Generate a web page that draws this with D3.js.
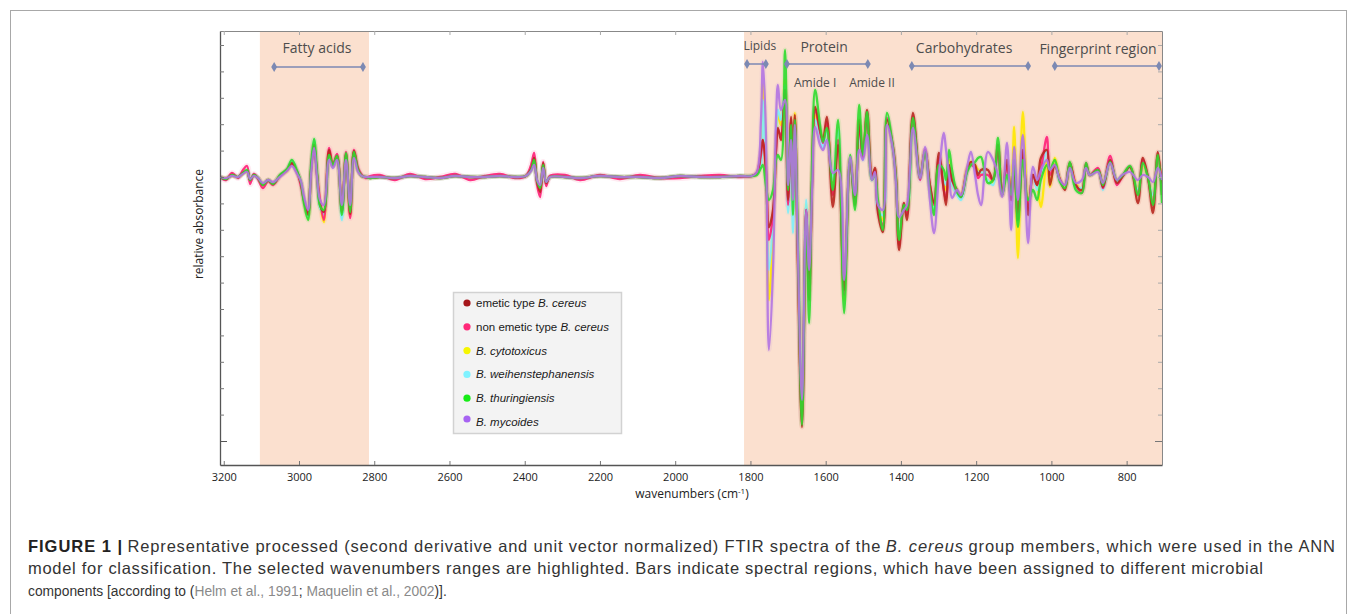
<!DOCTYPE html>
<html>
<head>
<meta charset="utf-8">
<script src="https://cdn.jsdelivr.net/npm/d3@7"></script>
<style>
  body { margin: 0; background: #fff; }
</style>
</head>
<body>
<script>
// wavenumbers (cm-1)
const wavenumbers = [
  3210,3194,3178,3162,3149,3138,3130,3120,3109,
  3096,3082,3069,3051,3032,3019,3005,2995,2987,2976,2968,2960,2952,2944,2934,2920,2910,2899,2886,2875,2864,2854,2843,2833,2822,2811,
  2785,2745,2705,2665,2625,2585,2545,2506,2466,2426,2397,2383,2375,2367,2359,2351,2343,2333,2293,2253,2200,2147,2094,2040,1987,1934,1881,1828,1796,
  1783,1772,1767,1759,1751,1740,1732,1727,1719,1708,1700,1692,1687,1682,1674,1663,1652,1644,1636,1628,1615,1607,1597,1581,1567,
  1551,1535,1522,1511,1501,1490,1477,1469,1461,1448,1437,1421,1413,1405,1392,1384,1368,1349,1336,1323,1312,1299,
  1286,1280,1272,1264,1251,1240,1224,1214,1203,1195,1187,1169,1155,1142,1131,1118,1107,1099,1089,1076,1062,1049,1038,
  1028,1012,1004,991,977,964,951,935,919,908,898,876,863,844,826,812,791,770,757,743,730,717,706
];

// relative absorbance (arbitrary units), one array per group member
const emetic = [
  0,-2,2,0,4,6,-3,2,-1,
  -8,-3,-7,1,7,14,5,-6,-23,-38,7,32,2,-28,-35,27,11,21,-35,23,-37,26,7,1,0,-1,
  0,-1,1,0,-1,1,0,0,1,0,1,8,19,-5,-15,14,-6,0,0,-1,1,0,0,-1,1,0,0,1,1,
  4,27,37,7,-50,-33,27,49,37,87,-23,60,-13,62,-83,-250,-33,-123,-3,70,47,37,60,-30,32,
  -113,17,-28,57,20,67,-1,9,-36,-55,57,30,-1,-73,-26,-43,64,0,27,-8,-26,24,
  -13,-28,12,-3,-13,-20,7,15,12,2,7,7,-3,32,-18,17,-23,12,-43,27,-38,2,-8,
  19,27,-8,12,-3,-13,14,-8,-13,12,2,7,-10,17,-6,0,10,-26,19,-1,-36,25,-18
];
const nonEmetic = [
  0,-3,4,-1,7,11,-7,3,-2,
  -11,-4,-8,1,7,13,5,-9,-23,-35,7,32,2,-23,-43,29,12,23,-33,25,-41,27,9,2,-1,1,
  2,-3,3,-2,0,3,-3,1,3,-1,1,12,24,-8,-20,15,-9,1,2,-3,2,-2,2,-1,-1,1,2,0,1,
  4,22,37,12,-63,-38,27,47,42,82,-28,57,-18,59,-73,-243,-33,-113,-3,67,45,34,55,-18,37,
  -118,17,-23,52,19,62,2,7,-33,-48,59,27,-3,-68,-28,-38,59,-3,27,-8,-28,19,
  -13,-23,7,-3,-15,-18,7,12,9,-1,2,2,-3,27,-18,12,-23,12,-38,27,-33,2,-8,
  7,40,2,12,-3,-8,14,-8,-16,14,2,9,-11,21,-8,0,10,-18,17,-1,-28,22,-13
];
const cytotoxicus = [
  0,-1,1,0,3,5,-2,1,-1,
  -7,-3,-6,1,6,15,5,-5,-24,-41,9,35,4,-27,-45,24,11,20,-35,22,-38,24,7,1,0,-1,
  0,-1,1,0,-1,1,0,0,1,0,1,7,17,-4,-12,12,-5,0,0,-1,1,0,0,-1,1,0,0,1,1,
  3,17,92,27,-123,-53,37,62,52,97,-13,47,-23,64,-73,-233,-28,-113,7,62,47,35,52,-8,42,
  -123,19,-21,57,22,62,-1,7,-31,-43,57,27,-1,-58,-33,-35,57,-1,27,-13,-33,17,
  -3,-13,17,-8,-15,-18,9,15,12,7,5,-3,-5,27,-18,12,-13,50,-81,65,-28,2,-8,
  -30,17,-10,19,-3,-10,12,-6,-13,12,2,7,-8,17,-5,1,9,-11,12,-1,-18,19,-8
];
const weihenstephanensis = [
  0,-2,2,0,4,6,-3,2,-1,
  -7,-3,-6,1,7,16,6,-5,-24,-40,10,37,4,-31,-37,21,10,19,-43,22,-33,23,7,1,0,-1,
  0,-1,1,0,-1,1,0,0,1,0,1,7,15,-4,-11,11,-5,0,0,-1,1,0,0,-1,1,0,0,1,1,
  3,12,77,17,-93,-43,37,67,57,92,-36,27,-56,57,-63,-223,-23,-103,2,57,42,29,47,-3,47,
  -113,12,-23,47,17,59,-3,5,-33,-38,59,25,-3,-53,-33,-35,55,-3,25,-13,-33,17,
  -3,-8,12,-8,-18,-23,5,12,9,5,5,-3,-8,22,-18,7,-23,17,-38,27,-33,2,-13,
  2,27,7,12,-5,-8,12,-9,-11,12,2,7,-13,17,-5,1,9,-13,15,-1,-18,19,-13
];
const thuringiensis = [
  0,-2,2,0,4,7,-3,2,-1,
  -8,-3,-7,2,8,17,6,-5,-26,-43,12,38,5,-29,-33,22,12,21,-38,24,-35,25,7,1,0,-1,
  0,-1,1,0,-1,1,0,0,1,0,1,7,17,-4,-11,12,-5,0,0,-1,1,0,0,-1,1,0,0,1,1,
  2,9,12,-8,-23,-13,17,22,17,127,-13,52,-38,57,-63,-248,-38,-146,17,87,52,35,49,-13,57,
  -136,22,-33,72,22,65,-3,2,-23,-53,64,29,-3,-63,-28,-33,59,-1,25,-13,-38,12,
  7,-3,27,7,-15,-20,5,12,15,19,20,-6,-3,39,-18,2,-18,17,-50,17,-23,-13,-23,
  -3,12,7,17,-5,-11,15,-13,-16,14,2,7,-8,15,-3,1,11,-18,14,-1,-28,22,-26
];
const mycoides = [
  0,-1,1,0,3,5,-2,1,-1,
  -6,-3,-5,0,6,11,3,-4,-19,-33,2,29,-1,-23,-28,17,9,17,-28,17,-28,19,5,1,0,0,
  0,-1,1,0,-1,1,0,0,1,0,1,6,12,-3,-8,9,-5,0,0,-1,1,0,0,-1,1,0,0,1,1,
  5,57,115,47,-173,-93,57,92,67,77,-8,37,-23,52,-73,-223,-33,-93,-13,50,32,27,37,4,7,
  -103,20,-18,27,17,42,-3,5,-28,-33,52,27,-8,-40,-33,-28,49,-1,30,-23,-56,2,
  44,27,2,-21,-13,-18,10,25,2,-18,-28,25,17,2,-20,34,-53,30,-23,42,-66,10,-3,
  7,17,7,12,-3,-8,9,-6,-3,9,2,5,-6,14,-3,2,5,-3,2,0,-5,9,-3
];

const legendPrefix = ['emetic type ', 'non emetic type ', '', '', '', ''];
const legendSpecies = ['B. cereus', 'B. cereus', 'B. cytotoxicus', 'B. weihenstephanensis', 'B. thuringiensis', 'B. mycoides'];
const seriesColors = ['#b8281f', '#ff1f78', '#ffe800', '#7ceefa', '#2fdc2f', '#b374e2'];
const legendDotColors = ['#a5161a', '#ff2878', '#f6f600', '#7ff2ff', '#16ec16', '#a763f2'];

const xTicks = [3200, 3000, 2800, 2600, 2400, 2200, 2000, 1800, 1600, 1400, 1200, 1000, 800];
const highlightRanges = [[3104, 2814], [1817, 706]];
const regionNames = ['Fatty acids', 'Lipids', 'Protein', 'Carbohydrates', 'Fingerprint region'];
const regionRanges = [[3066, 2830], [1809, 1759], [1703, 1488], [1371, 1062], [991, 714]];
const regionLabelAt = [2952, 1775, 1604, 1232, 876];
const amideNames = ['Amide I', 'Amide II'];
const amideLabelAt = [1628, 1477];

const width = 1357, height = 614;
const plot = { left: 220, right: 1162, top: 31, bottom: 465 };
const capFont = '"Liberation Sans", Arial, sans-serif';

const svg = d3.select('body').append('svg')
  .attr('width', width)
  .attr('height', height)
  .attr('font-family', '"Open Sans", sans-serif');

// figure frame
svg.append('rect')
  .attr('x', 10.5).attr('y', 10.5)
  .attr('width', 1336).attr('height', 640)
  .attr('fill', 'none').attr('stroke', '#a8a8a8').attr('stroke-width', 1);

const x = d3.scaleLinear().domain([3210, 706]).range([plot.left, plot.right]);
const y = d3.scaleLinear().domain([146, -288]).range([plot.top, plot.bottom]);

// highlighted wavenumber ranges
svg.append('g').selectAll('rect')
  .data(highlightRanges)
  .enter().append('rect')
  .attr('x', d => x(d[0]))
  .attr('width', d => x(d[1]) - x(d[0]))
  .attr('y', plot.top)
  .attr('height', plot.bottom - plot.top)
  .attr('fill', '#fbe0cf');

// spectra
svg.append('clipPath').attr('id', 'clip')
  .append('rect')
  .attr('x', plot.left).attr('y', plot.top)
  .attr('width', plot.right - plot.left).attr('height', plot.bottom - plot.top);

const allSeries = [emetic, nonEmetic, cytotoxicus, weihenstephanensis, thuringiensis, mycoides];
const drawOrder = [2, 3, 1, 0, 4, 5];

const line = d3.line()
  .x((d, i) => x(wavenumbers[i]))
  .y(d => y(d))
  .curve(d3.curveCatmullRom.alpha(0.5));

const lines = svg.append('g').attr('clip-path', 'url(#clip)');

// faint spread around each mean spectrum
lines.selectAll('path.spread')
  .data(drawOrder)
  .enter().append('path')
  .attr('class', 'spread')
  .attr('d', i => line(allSeries[i]))
  .attr('fill', 'none')
  .attr('stroke', i => i === 1 ? '#ffa3c3' : seriesColors[i])
  .attr('stroke-opacity', i => i === 1 ? 0.22 : 0.1)
  .attr('stroke-width', i => i === 1 ? 6 : 5)
  .attr('stroke-linejoin', 'round');

lines.selectAll('path.mean')
  .data(drawOrder)
  .enter().append('path')
  .attr('class', 'mean')
  .attr('d', i => line(allSeries[i]))
  .attr('fill', 'none')
  .attr('stroke', i => seriesColors[i])
  .attr('stroke-width', 2.3)
  .attr('stroke-opacity', 0.9)
  .attr('stroke-linejoin', 'round');

// axes (ticks point inward, box all round)
const yTicks = d3.range(-10, 6).map(k => k * 26.4);

const gBottom = svg.append('g')
  .attr('transform', `translate(0,${plot.bottom})`)
  .call(d3.axisBottom(x).tickValues(xTicks).tickSizeInner(-4).tickSizeOuter(0).tickPadding(8).tickFormat(d3.format('d')));
const gTop = svg.append('g')
  .attr('transform', `translate(0,${plot.top})`)
  .call(d3.axisTop(x).tickValues(xTicks).tickSizeInner(-4).tickSizeOuter(0).tickFormat(''));
const gLeft = svg.append('g')
  .attr('transform', `translate(${plot.left},0)`)
  .call(d3.axisLeft(y).tickValues(yTicks).tickSizeInner(-4).tickSizeOuter(0).tickFormat(''));
const gRight = svg.append('g')
  .attr('transform', `translate(${plot.right},0)`)
  .call(d3.axisRight(y).tickValues(yTicks).tickSizeInner(-4).tickSizeOuter(0).tickFormat(''));

[gBottom, gLeft].forEach(g => {
  g.select('.domain').attr('stroke', '#555').attr('stroke-width', 1.3);
  g.selectAll('.tick line').attr('stroke', '#777');
});
[gTop, gRight].forEach(g => {
  g.select('.domain').attr('stroke', '#888');
  g.selectAll('.tick line').attr('stroke', '#aaa');
});
gLeft.selectAll('.tick line').filter(d => d < -260).attr('x2', 7).attr('stroke', '#555');
gRight.selectAll('.tick line').filter(d => d < -260).attr('x2', -7).attr('stroke', '#777');
gBottom.selectAll('.tick text')
  .attr('font-family', '"Open Sans", sans-serif')
  .attr('font-size', 11)
  .attr('fill', '#222');

// axis titles
const xTitle = svg.append('text')
  .attr('x', 692).attr('y', 498)
  .attr('text-anchor', 'middle')
  .attr('font-size', 12).attr('fill', '#222');
xTitle.append('tspan').text('wavenumbers (cm');
xTitle.append('tspan').attr('font-size', 8).attr('dy', -4).text('-1');
xTitle.append('tspan').attr('dy', 4).text(')');

svg.append('text')
  .attr('transform', 'translate(203,224) rotate(-90)')
  .attr('text-anchor', 'middle')
  .attr('font-size', 12).attr('fill', '#222')
  .text('relative absorbance');

// spectral region bars and labels
const barY = [67, 64, 64, 66, 66];
const labelY = [53, 50, 52, 53, 54];
const labelSize = [14, 12, 14, 14, 14];
const barColor = '#7c89b3';

const regions = svg.append('g');
regionNames.forEach((name, i) => {
  const r = regionRanges[i];
  regions.append('line')
    .attr('x1', x(r[0])).attr('x2', x(r[1]))
    .attr('y1', barY[i]).attr('y2', barY[i])
    .attr('stroke', barColor).attr('stroke-width', 1.5);
  r.forEach(v => {
    regions.append('path')
      .attr('d', d3.symbol(d3.symbolDiamond, 30)())
      .attr('transform', `translate(${x(v)},${barY[i]})`)
      .attr('fill', barColor);
  });
  regions.append('text')
    .attr('x', x(regionLabelAt[i])).attr('y', labelY[i])
    .attr('text-anchor', 'middle')
    .attr('font-size', labelSize[i])
    .attr('fill', '#4d4d4d')
    .text(name);
});
amideNames.forEach((name, i) => {
  regions.append('text')
    .attr('x', x(amideLabelAt[i])).attr('y', 87)
    .attr('text-anchor', 'middle')
    .attr('font-size', 12)
    .attr('fill', '#4d4d4d')
    .text(name);
});

// legend
const legend = svg.append('g');
legend.append('rect')
  .attr('x', 453.5).attr('y', 292.5)
  .attr('width', 168).attr('height', 141)
  .attr('fill', '#f3f3f3').attr('stroke', '#d2d2d2').attr('stroke-width', 1.5);
const rows = legend.selectAll('g.row')
  .data(legendSpecies)
  .enter().append('g')
  .attr('class', 'row')
  .attr('transform', (d, i) => `translate(467,${303 + i * 23.8})`);
rows.append('circle')
  .attr('r', 3.6)
  .attr('cy', (d, i) => i === 5 ? -3 : 0)
  .attr('fill', (d, i) => legendDotColors[i]);
const rowText = rows.append('text')
  .attr('x', 9).attr('dy', '0.35em')
  .attr('font-family', capFont)
  .attr('font-size', 11.5).attr('fill', '#1a1a1a');
rowText.append('tspan').text((d, i) => legendPrefix[i]);
rowText.append('tspan').attr('font-style', 'italic').text(d => d);

// caption: each styled run is its own text. A line too long for the
// reference width is set smaller; a short one gets wider letter spacing.
const capSize = 16.5;
function captionLine(segments, x0, yBase, targetWidth) {
  const g = svg.append('g');
  const nodes = segments.map(s => g.append('text')
    .attr('y', yBase)
    .attr('font-family', capFont)
    .attr('font-size', capSize)
    .attr('font-weight', s.bold ? 'bold' : null)
    .attr('font-style', s.italic ? 'italic' : null)
    .attr('fill', s.color || '#333')
    .attr('xml:space', 'preserve')
    .text(s.t));
  let widths = nodes.map(n => n.node().getComputedTextLength());
  const k = targetWidth / d3.sum(widths);
  if (k < 1) {
    nodes.forEach(n => n.attr('font-size', capSize * k));
    widths = nodes.map(n => n.node().getComputedTextLength());
  }
  let cx = x0;
  nodes.forEach((n, i) => {
    n.attr('x', cx);
    if (k > 1.005) {
      n.attr('textLength', widths[i] * k).attr('lengthAdjust', 'spacing');
      cx += widths[i] * k;
    } else {
      cx += widths[i];
    }
  });
}

captionLine([
  { t: 'FIGURE 1 | ', bold: true, color: '#222' },
  { t: 'Representative processed (second derivative and unit vector normalized) FTIR spectra of the ' },
  { t: 'B. cereus', italic: true },
  { t: ' group members, which were used in the ANN' }
], 28, 552, 1307);

captionLine([
  { t: 'model for classification. The selected wavenumbers ranges are highlighted. Bars indicate spectral regions, which have been assigned to different microbial' }
], 28, 574, 1235);

captionLine([
  { t: 'components [according to (' },
  { t: 'Helm et al., 1991', color: '#8a8a8a' },
  { t: '; ' },
  { t: 'Maquelin et al., 2002', color: '#8a8a8a' },
  { t: ')].' }
], 28, 596, 419);
</script>
</body>
</html>
